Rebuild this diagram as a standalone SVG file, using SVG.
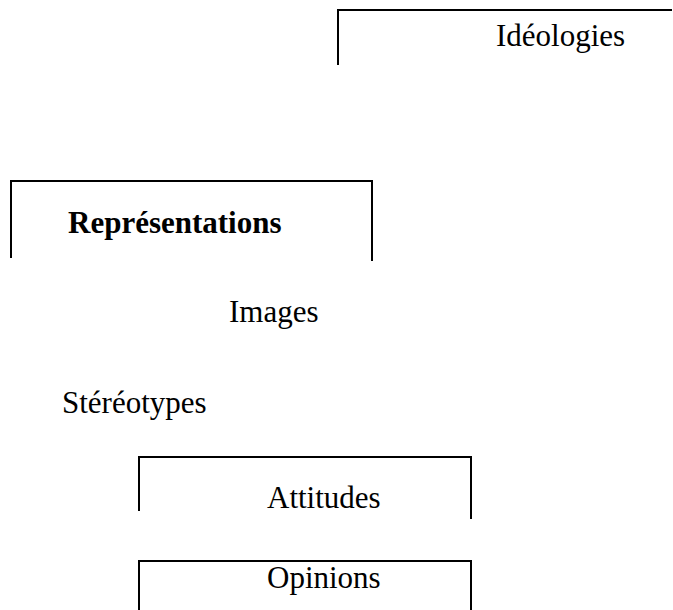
<svg xmlns="http://www.w3.org/2000/svg" width="673" height="610" viewBox="0 0 673 610">
<style>
.frame{fill:none;stroke:#000;stroke-width:2}
.t{font-family:"Liberation Serif","Times New Roman",serif;font-size:31px;fill:#000}
.b{font-weight:bold}
</style>
<rect width="673" height="610" fill="#fff"/>
<g id="ideologies">
<path class="frame" d="M338,65 V10 H672"/>
<text class="t" x="496" y="46">Idéologies</text>
</g>
<g id="representations">
<path class="frame" d="M11,258 V181 H372 V261"/>
<text class="t b" x="68" y="233">Représentations</text>
</g>
<g id="images">
<text class="t" x="229" y="322">Images</text>
</g>
<g id="stereotypes">
<text class="t" x="62" y="413">Stéréotypes</text>
</g>
<g id="attitudes">
<path class="frame" d="M139,511 V457 H471 V519"/>
<text class="t" x="267" y="508">Attitudes</text>
</g>
<g id="opinions">
<path class="frame" d="M139,610 V561 H471 V610"/>
<text class="t" x="267" y="588">Opinions</text>
</g>
<g id="connectors"></g>
</svg>
